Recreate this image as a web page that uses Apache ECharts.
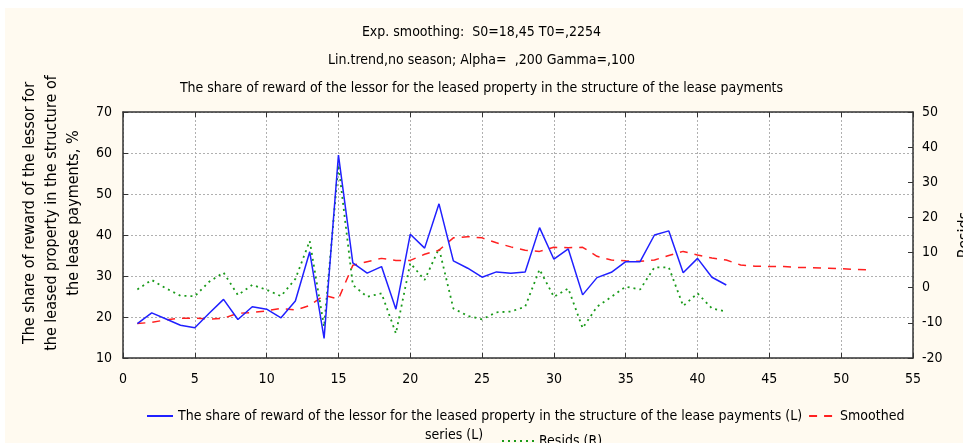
<!DOCTYPE html>
<html lang="en">
<head>
    <meta charset="UTF-8">
    <title>Exp. smoothing</title>
    <script src="https://cdn.jsdelivr.net/npm/echarts@6/dist/echarts.min.js"></script>
    <style>
        html, body { margin: 0; padding: 0; background: #ffffff; }
        #main { width: 963px; height: 443px; }
    </style>
</head>
<body>
    <div id="main"></div>
    <script>
        // observed share, % (left axis), periods 1..42
        let share = [18.4, 21.0, 19.5, 18.0, 17.4, 20.9, 24.3, 19.4, 22.5, 21.9,
            19.8, 23.9, 35.9, 14.8, 59.5, 33.2, 30.7, 32.3, 21.9, 40.2,
            36.8, 47.6, 33.7, 31.9, 29.7, 31.0, 30.7, 31.0, 41.8, 34.1,
            36.6, 25.4, 29.6, 30.9, 33.5, 33.5, 40.0, 41.0, 30.8, 34.3,
            29.7, 27.8]
        // smoothed series (left axis), periods 1..52
        let smoothed = [18.4, 18.7, 19.3, 19.7, 19.7, 19.5, 19.7, 20.9, 21.1, 21.5,
            22.1, 21.7, 22.8, 25.3, 24.4, 32.6, 33.5, 34.3, 33.8, 33.8,
            35.3, 36.3, 39.3, 39.6, 39.3, 38.1, 37.1, 36.3, 36.0, 37.0,
            36.9, 37.0, 34.8, 33.9, 33.7, 33.6, 33.9, 35.0, 36.0, 35.1,
            34.4, 33.9, 32.7, 32.4, 32.3, 32.3, 32.1, 32.0, 31.9, 31.8,
            31.6, 31.5]
        // residuals (right axis), periods 1..42
        let resids = [-0.5, 2.2, -0.2, -2.3, -2.4, 1.7, 4.3, -2.1, 0.8, -0.6,
            -2.4, 2.5, 13.3, -11.1, 35.0, 0.8, -2.6, -1.6, -13.0, 7.0,
            2.2, 11.2, -5.9, -8.0, -9.0, -7.0, -6.8, -5.4, 5.2, -2.6,
            -0.2, -11.5, -5.4, -2.6, 0.3, -0.5, 5.8, 5.8, -5.2, -1.6,
            -5.9, -6.8]

        let titleLines = [
            'Exp. smoothing:  S0=18,45 T0=,2254',
            'Lin.trend,no season; Alpha=  ,200 Gamma=,100',
            'The share of reward of the lessor for the leased property in the structure of the lease payments'
        ]
        let leftName = 'The share of reward of the lessor for\nthe leased property in the structure of\nthe lease payments, %'
        let names = [
            'The share of reward of the lessor for the leased property in the structure of the lease payments (L)',
            'Smoothed series (L)',
            'Resids (R)'
        ]

        function pairs(arr) {
            return arr.map((v, i) => [i + 1, v])
        }

        let font = "'Liberation Sans Narrow', 'DejaVu Sans Condensed', sans-serif"
        let cream = '#fffaf0'
        let frame = '#333333'

        let chart = echarts.init(document.getElementById('main'))
        let option = {
            backgroundColor: cream,
            animation: false,
            textStyle: { fontFamily: font, color: '#000' },
            title: {
                text: titleLines.join('\n'),
                left: 'center',
                top: 13,
                textStyle: { fontSize: 14, fontWeight: 'normal', lineHeight: 28, fontFamily: font, color: '#000' }
            },
            graphic: [
                { type: 'rect', left: 0, top: 0, shape: { width: 963, height: 8 }, style: { fill: '#fff' }, silent: true },
                { type: 'rect', left: 0, top: 0, shape: { width: 5, height: 443 }, style: { fill: '#fff' }, silent: true },
                { type: 'text', left: 425, top: 428, style: { text: 'series (L)', fontSize: 14, fontFamily: font, fill: '#000' } }
            ],
            grid: {
                left: 123, right: 50, top: 112, bottom: 85,
                outerBoundsMode: 'none',
                backgroundColor: '#ffffff', show: true, borderWidth: 0
            },
            legend: [
                {
                    data: [names[0], names[1]],
                    left: 141, top: 404, width: 820,
                    itemWidth: 26, itemHeight: 14, itemGap: 6,
                    itemStyle: { opacity: 0 },
                    formatter: n => n === names[1] ? 'Smoothed' : n,
                    textStyle: { fontSize: 14, fontFamily: font, color: '#000' }
                },
                {
                    data: [names[2]],
                    left: 496, top: 429,
                    itemWidth: 32, itemHeight: 14,
                    itemStyle: { opacity: 0 },
                    textStyle: { fontSize: 14, fontFamily: font, color: '#000' }
                }
            ],
            xAxis: [
                {
                    type: 'value', min: 0, max: 55, interval: 5,
                    axisLine: { onZero: false, lineStyle: { color: frame, width: 1.5 } },
                    axisTick: { inside: true, length: 5, lineStyle: { color: frame } },
                    axisLabel: { fontSize: 14, color: '#000', margin: 14 },
                    splitLine: { show: true, lineStyle: { color: '#b0b0b0', type: [2, 2] } }
                },
                {
                    type: 'value', min: 0, max: 55, interval: 5, position: 'top',
                    axisLine: { onZero: false, lineStyle: { color: frame, width: 1.5 } },
                    axisTick: { inside: true, length: 5, lineStyle: { color: frame } },
                    axisLabel: { show: false },
                    splitLine: { show: false }
                }
            ],
            yAxis: [
                {
                    type: 'value', min: 10, max: 70, interval: 10,
                    name: leftName, nameLocation: 'middle', nameRotate: 90, nameGap: 38,
                    nameTextStyle: { fontSize: 16, lineHeight: 22, color: '#000', fontFamily: font, padding: [0, 0, 0, 44] },
                    axisLine: { show: true, onZero: false, lineStyle: { color: frame, width: 1.5 } },
                    axisTick: { show: true, inside: true, length: 5, lineStyle: { color: frame } },
                    axisLabel: { fontSize: 14, color: '#000', margin: 11 },
                    splitLine: { show: true, lineStyle: { color: '#b0b0b0', type: [2, 2] } }
                },
                {
                    type: 'value', min: -20, max: 50, interval: 10, position: 'right',
                    name: 'Resids', nameLocation: 'middle', nameRotate: 90, nameGap: 44,
                    nameTextStyle: { fontSize: 16, color: '#000', fontFamily: font },
                    axisLine: { show: true, onZero: false, lineStyle: { color: frame, width: 1.5 } },
                    axisTick: { show: true, inside: true, length: 5, lineStyle: { color: frame } },
                    axisLabel: { fontSize: 14, color: '#000', margin: 9 },
                    splitLine: { show: false }
                }
            ],
            series: [
                {
                    name: names[0], type: 'line', data: pairs(share),
                    showSymbol: false, symbol: 'none',
                    lineStyle: { color: '#2020ff', width: 1.5 },
                    itemStyle: { color: '#2020ff' }, z: 4
                },
                {
                    name: names[1], type: 'line', data: pairs(smoothed),
                    showSymbol: false, symbol: 'none',
                    lineStyle: { color: '#ff2020', width: 1.5, type: [8, 7] },
                    itemStyle: { color: '#ff2020' }, z: 3
                },
                {
                    name: names[2], type: 'line', data: pairs(resids), yAxisIndex: 1,
                    showSymbol: false, symbol: 'none',
                    lineStyle: { color: '#1a9a1a', width: 1.8, type: [2, 4] },
                    itemStyle: { color: '#1a9a1a' }, z: 2
                }
            ]
        }
        chart.setOption(option)
    </script>
</body>
</html>
